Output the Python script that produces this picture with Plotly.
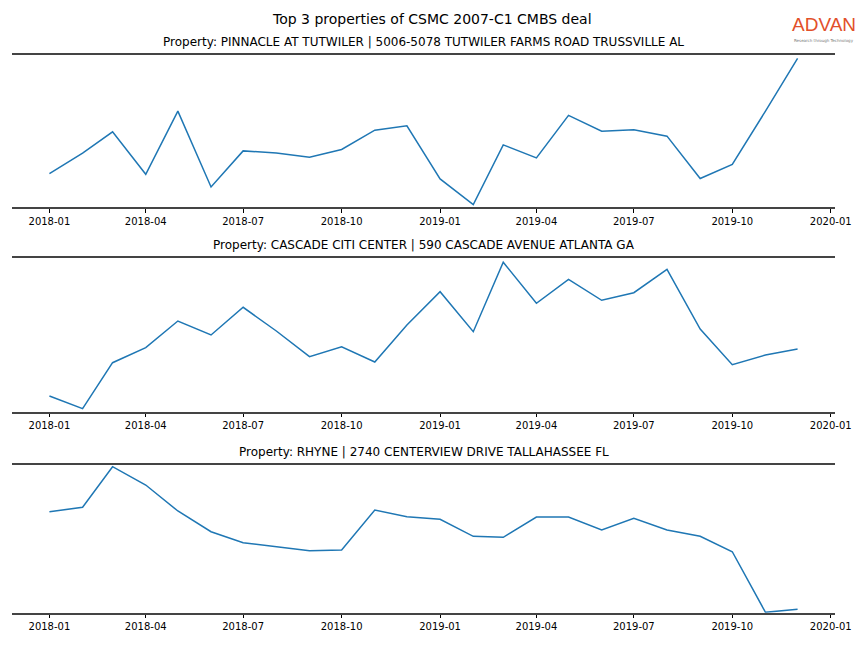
import plotly.graph_objects as go

months = ["2018-01-01", "2018-02-01", "2018-03-01", "2018-04-01", "2018-05-01", "2018-06-01",
          "2018-07-01", "2018-08-01", "2018-09-01", "2018-10-01", "2018-11-01", "2018-12-01",
          "2019-01-01", "2019-02-01", "2019-03-01", "2019-04-01", "2019-05-01", "2019-06-01",
          "2019-07-01", "2019-08-01", "2019-09-01", "2019-10-01", "2019-11-01", "2019-12-01"]

pinnacle = [33.4, 53.7, 75.0, 32.7, 95.7, 20.0, 56.0, 54.0, 49.7, 57.4, 76.7, 81.0,
            28.0, 2.4, 62.0, 49.0, 91.4, 75.7, 77.0, 70.7, 28.4, 42.4, 95.7, 148.4]
cascade = [15.7, 3.0, 49.0, 64.0, 90.7, 76.7, 104.4, 80.7, 55.0, 65.0, 49.7, 86.7,
           120.0, 80.0, 149.4, 108.4, 132.4, 111.4, 119.0, 142.4, 82.7, 47.0, 56.7, 62.7]
rhyne = [101.0, 105.4, 146.0, 127.7, 101.7, 81.0, 70.0, 66.0, 62.0, 62.7, 102.7, 96.0,
         93.4, 76.4, 75.4, 95.7, 95.7, 82.7, 94.4, 82.7, 76.4, 61.0, 0.4, 3.4]

series = [pinnacle, cascade, rhyne]
subtitles = ["Property: PINNACLE AT TUTWILER | 5006-5078 TUTWILER FARMS ROAD TRUSSVILLE AL",
             "Property: CASCADE CITI CENTER | 590 CASCADE AVENUE ATLANTA GA",
             "Property: RHYNE | 2740 CENTERVIEW DRIVE TALLAHASSEE FL"]
main_title = "Top 3 properties of CSMC 2007-C1 CMBS deal"
tick_vals = ["2018-01-01", "2018-04-01", "2018-07-01", "2018-10-01", "2019-01-01",
             "2019-04-01", "2019-07-01", "2019-10-01", "2020-01-01"]

W, H = 864, 648
x0, x1 = 12, 835
panels_px = [(55, 207), (258, 411.7), (464.7, 612.7)]
y_ranges = [[0, 151.7], [0, 153.7], [0, 148.0]]

fig = go.Figure()
font = "DejaVu Sans, Liberation Sans, sans-serif"
layout = dict(
    width=W, height=H, margin=dict(l=0, r=0, t=0, b=0, autoexpand=False),
    paper_bgcolor="white", plot_bgcolor="white", showlegend=False,
    font=dict(family=font, color="black"),
)
annotations = []
for i, (vals, (top, bot)) in enumerate(zip(series, panels_px)):
    n = "" if i == 0 else str(i + 1)
    fig.add_trace(go.Scatter(x=months, y=vals, mode="lines",
                             line=dict(color="#1f77b4", width=1.5),
                             xaxis="x" + n, yaxis="y" + n, hoverinfo="x+y"))
    layout["xaxis" + n] = dict(
        domain=[x0 / W, x1 / W], anchor="y" + n, type="date",
        range=["2017-11-27 01:00", "2020-01-04 23:00"],
        tickvals=tick_vals, tickformat="%Y-%m", automargin=False,
        ticks="outside", ticklen=3.5, tickwidth=1, tickcolor="black",
        tickfont=dict(size=10, family=font, color="black"),
        showline=True, mirror=True, linecolor="#444444", linewidth=2,
        showgrid=False, zeroline=False,
    )
    layout["yaxis" + n] = dict(
        domain=[1 - bot / H, 1 - top / H], anchor="x" + n, automargin=False,
        range=y_ranges[i], visible=False, showgrid=False, zeroline=False,
    )
    annotations.append(dict(
        text=subtitles[i], x=(x0 + x1) / 2 / W, y=1 - (top - 13) / H,
        xref="paper", yref="paper", xanchor="center", yanchor="middle",
        showarrow=False, font=dict(size=12, family=font, color="black")))

annotations.append(dict(text=main_title, x=0.5, y=1 - 19 / H, xref="paper", yref="paper",
                        xanchor="center", yanchor="middle", showarrow=False,
                        font=dict(size=14, family=font, color="black")))
annotations.append(dict(text="ADVAN", x=824 / W, y=1 - 25 / H, xref="paper", yref="paper",
                        xanchor="center", yanchor="middle", showarrow=False, borderpad=0,
                        font=dict(size=19, family="Liberation Sans, Arial, sans-serif", color="#E2502A")))
annotations.append(dict(text="Research through Technology", x=824 / W, y=1 - 40 / H,
                        xref="paper", yref="paper", xanchor="center", yanchor="middle",
                        showarrow=False, borderpad=0,
                        font=dict(size=4, family=font, color="#777777")))
layout["annotations"] = annotations
fig.update_layout(**layout)
fig.write_html("out.html", config={"displayModeBar": False},
               post_script="document.body.style.margin='0';")
